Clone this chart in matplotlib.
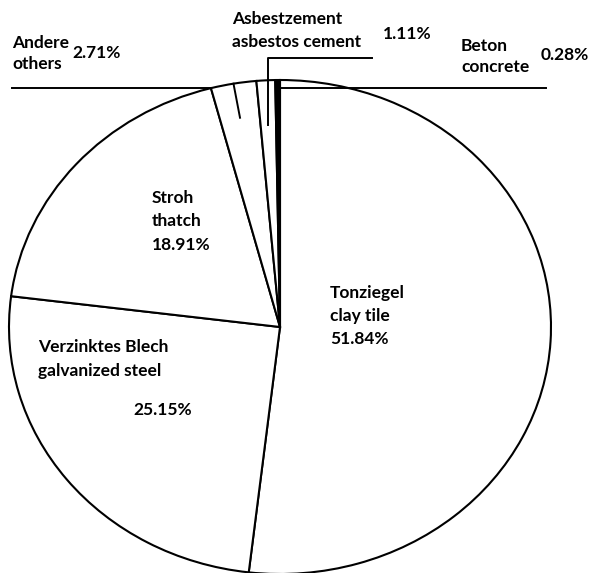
import numpy as np
import matplotlib.pyplot as plt
from matplotlib.transforms import Affine2D

# roofing material shares (%), clockwise from 12 o'clock
names_de = ['Tonziegel', 'Verzinktes Blech', 'Stroh', 'Andere', 'Asbestzement', 'Beton']
names_en = ['clay tile', 'galvanized steel', 'thatch', 'others', 'asbestos cement', 'concrete']
shares = [51.84, 25.15, 18.91, 2.71, 1.11, 0.28]

W, H = 616, 573
# the pie is slightly wider than tall
cx, cy, rx, ry = 280, H - 327, 271, 247
FONT = dict(family='Lato', fontweight='bold', fontsize=12.5, color='black')

fig = plt.figure(figsize=(W / 100, H / 100), dpi=100)
ax = fig.add_axes([0, 0, 1, 1])

colors = ['white'] * (len(shares) - 1) + ['black']
wedges, _ = ax.pie(shares, startangle=90, counterclock=False, center=(0, 0),
                   radius=1, colors=colors,
                   wedgeprops=dict(edgecolor='black', linewidth=1.5))
stretch = Affine2D().scale(rx, ry).translate(cx, cy) + ax.transData
for w in wedges:
    w.set_transform(stretch)
ax.set_xlim(0, W)
ax.set_ylim(0, H)
ax.set_aspect('auto')
ax.axis('off')


def pt(frac, rad=1.0):
    a = np.deg2rad(90 - 360 * frac)
    return cx + rad * rx * np.cos(a), cy + rad * ry * np.sin(a)


cum = np.cumsum([0] + shares) / 100.0

# short stroke inside the "others" wedge
mid_o = (cum[3] + cum[4]) / 2
x0, y0 = pt(mid_o, 0.86)
x1, y1 = pt(mid_o)
ax.plot([x0, x1], [y0, y1], color='black', lw=1.4)


def txt(x, y, s, **kw):
    ax.text(x, H - y, s, ha='left', va='center', **FONT, **kw)


# labels inside the pie
txt(330, 293, names_de[0])
txt(330, 316, names_en[0])
txt(330, 339, f'{shares[0]:.2f}%')

txt(38, 347, names_de[1])
txt(38, 371, names_en[1])
txt(133, 410, f'{shares[1]:.2f}%')

txt(152, 198, names_de[2])
txt(152, 221, names_en[2])
txt(152, 245, f'{shares[2]:.2f}%')

# labels above the pie with leader lines
txt(12, 43, names_de[3])
txt(12, 64, names_en[3])
txt(72, 53, f'{shares[3]:.2f}%')
xa, ya = pt(cum[3])
ax.plot([12, xa], [H - 88, H - 88], color='black', lw=1.4)

txt(232, 19, names_de[4])
txt(232, 42, names_en[4])
txt(383, 34, f'{shares[4]:.2f}%')
mid_a = (cum[4] + cum[5]) / 2
xb, yb = pt(mid_a, 0.82)
ax.plot([xb, xb, 372], [yb, H - 58, H - 58], color='black', lw=1.4)

txt(461, 46, names_de[5])
txt(461, 67, names_en[5])
txt(541, 55, f'{shares[5]:.2f}%')
xc, yc = pt(cum[5])
ax.plot([xc + 4, 546], [H - 88, H - 88], color='black', lw=1.4)

fig.savefig('out.png', dpi=100)
